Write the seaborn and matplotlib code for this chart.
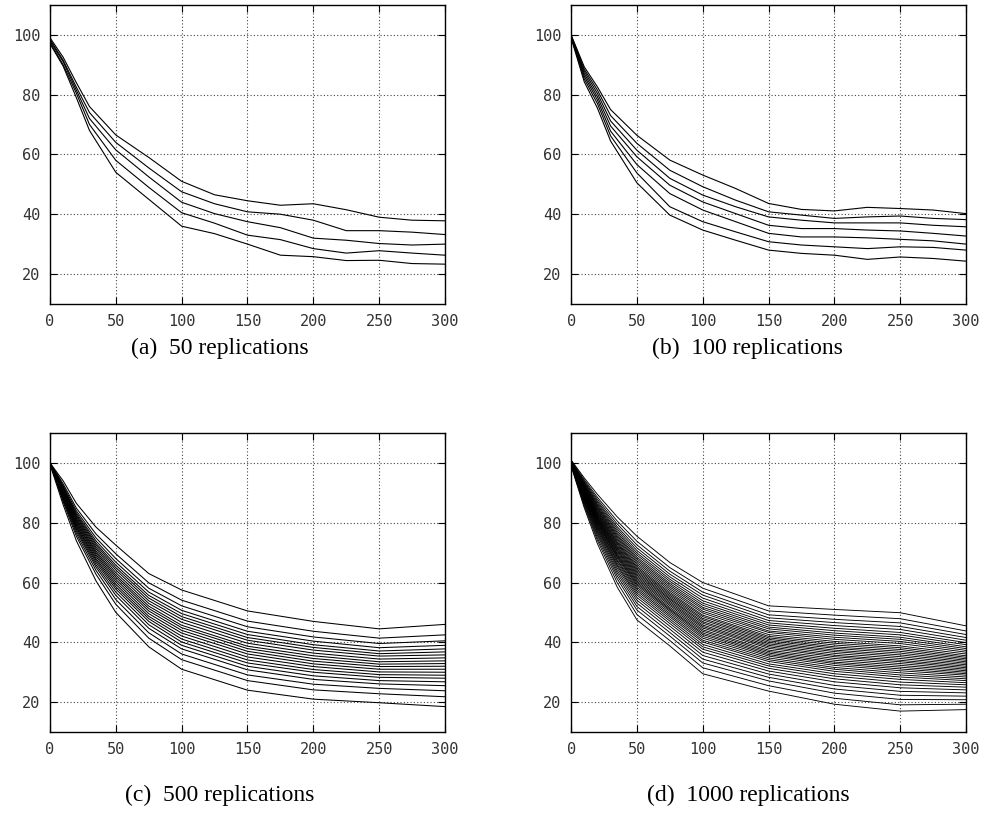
import numpy as np
import pandas as pd
import matplotlib
matplotlib.use("Agg")
import matplotlib.pyplot as plt
import seaborn as sns

# values (one list per curve, top to bottom)
steps_ab = [0, 10, 20, 30, 50, 75, 100, 125, 150, 175, 200, 225, 250, 275, 300]
steps_cd = [0, 10, 20, 35, 50, 75, 100, 150, 200, 250, 300]

curves_a = [
    [99.0, 92.5, 84.0, 76.0, 66.5, 59.0, 51.0, 46.5, 44.5, 43.0, 43.5, 41.5, 39.0, 38.0, 37.8],
    [98.5, 91.5, 82.5, 74.0, 64.0, 55.5, 47.5, 43.5, 40.8, 40.0, 38.0, 34.5, 34.5, 34.0, 33.2],
    [98.0, 91.0, 81.5, 72.0, 61.5, 52.5, 44.0, 40.2, 37.5, 35.5, 32.0, 31.3, 30.2, 29.7, 30.0],
    [97.5, 90.0, 80.5, 70.0, 58.0, 49.0, 40.5, 37.0, 33.0, 31.5, 28.5, 27.0, 27.8, 27.0, 26.3],
    [97.0, 89.5, 79.0, 68.0, 54.0, 45.0, 36.0, 33.5, 30.0, 26.3, 25.8, 24.5, 24.6, 23.5, 23.3],
]

curves_b = [
    [100.0, 89.3, 82.6, 75.0, 66.4, 58.1, 53.1, 48.6, 43.6, 41.6, 41.1, 42.3, 41.9, 41.4, 40.2],
    [99.8, 88.5, 81.5, 73.0, 63.7, 54.7, 49.2, 44.7, 40.8, 39.7, 38.6, 39.1, 39.4, 38.6, 38.2],
    [99.6, 87.8, 80.4, 71.2, 61.4, 52.0, 46.4, 42.5, 39.1, 38.0, 37.1, 37.1, 37.1, 36.3, 35.8],
    [99.5, 87.0, 79.3, 69.5, 59.2, 49.7, 44.1, 40.2, 36.3, 35.2, 35.2, 34.7, 34.4, 33.6, 32.7],
    [99.3, 86.2, 78.2, 67.8, 56.6, 46.9, 41.4, 37.5, 33.6, 32.4, 32.4, 32.1, 31.6, 31.1, 30.0],
    [99.2, 85.3, 77.0, 66.2, 53.8, 42.5, 37.5, 34.1, 30.8, 29.7, 29.1, 28.5, 29.1, 28.9, 28.0],
    [99.0, 84.3, 75.5, 64.5, 50.5, 39.7, 34.7, 31.3, 28.0, 26.9, 26.3, 24.9, 25.7, 25.2, 24.3],
]

curves_c = [
    [100.0, 94.0, 86.5, 78.5, 72.5, 63.0, 57.5, 50.5, 47.0, 44.5, 46.0],
    [100.0, 93.0, 84.9, 76.2, 69.6, 59.9, 54.1, 47.1, 43.7, 41.4, 42.5],
    [100.0, 92.4, 84.0, 74.9, 68.0, 58.1, 52.2, 45.2, 41.8, 39.6, 40.5],
    [100.0, 92.0, 83.3, 73.9, 66.8, 56.8, 50.7, 43.7, 40.4, 38.2, 39.0],
    [100.0, 91.6, 82.8, 73.1, 65.8, 55.7, 49.6, 42.6, 39.2, 37.1, 37.8],
    [100.0, 91.3, 82.3, 72.5, 65.0, 54.8, 48.6, 41.6, 38.3, 36.2, 36.8],
    [100.0, 91.0, 81.9, 71.8, 64.2, 53.9, 47.7, 40.7, 37.4, 35.4, 35.8],
    [100.0, 90.7, 81.4, 71.2, 63.3, 53.0, 46.7, 39.7, 36.4, 34.4, 34.8],
    [100.0, 90.4, 81.0, 70.5, 62.5, 52.1, 45.7, 38.7, 35.5, 33.5, 33.8],
    [100.0, 90.2, 80.6, 69.9, 61.8, 51.3, 44.9, 37.9, 34.6, 32.7, 32.9],
    [100.0, 89.9, 80.1, 69.3, 61.0, 50.5, 44.0, 37.0, 33.7, 31.9, 32.0],
    [100.0, 89.6, 79.7, 68.7, 60.2, 49.6, 43.1, 36.1, 32.8, 31.0, 31.0],
    [100.0, 89.3, 79.2, 68.0, 59.4, 48.7, 42.1, 35.1, 31.9, 30.1, 30.0],
    [100.0, 89.1, 78.8, 67.4, 58.6, 47.9, 41.1, 34.1, 30.9, 29.2, 29.0],
    [100.0, 88.8, 78.3, 66.7, 57.8, 47.0, 40.1, 33.1, 30.0, 28.3, 28.0],
    [100.0, 88.4, 77.8, 65.9, 56.8, 45.9, 39.0, 32.0, 28.8, 27.2, 26.8],
    [100.0, 88.0, 77.2, 65.1, 55.7, 44.7, 37.8, 30.8, 27.6, 26.1, 25.5],
    [100.0, 87.5, 76.4, 64.0, 54.3, 43.2, 36.1, 29.1, 26.0, 24.6, 23.8],
    [100.0, 87.0, 75.5, 62.7, 52.7, 41.4, 34.2, 27.2, 24.1, 22.8, 21.8],
    [99.5, 86.0, 74.0, 60.5, 50.0, 38.5, 31.0, 24.0, 21.0, 19.8, 18.5],
]

curves_d = [
    [101.0, 95.0, 89.5, 82.0, 75.5, 66.7, 60.0, 52.2, 51.0, 49.9, 45.5],
    [100.8, 94.4, 88.5, 80.6, 73.8, 65.0, 58.1, 50.5, 49.1, 47.9, 43.8],
    [100.6, 94.0, 87.8, 79.6, 72.6, 63.8, 56.8, 49.2, 47.7, 46.5, 42.6],
    [100.5, 93.6, 87.2, 78.7, 71.6, 62.8, 55.8, 48.2, 46.6, 45.3, 41.6],
    [100.4, 93.3, 86.7, 78.0, 70.7, 61.9, 54.8, 47.3, 45.6, 44.3, 40.7],
    [100.3, 93.0, 86.2, 77.3, 69.9, 61.1, 53.9, 46.5, 44.7, 43.3, 39.9],
    [100.2, 92.8, 85.8, 76.7, 69.2, 60.4, 53.1, 45.8, 43.9, 42.5, 39.2],
    [100.2, 92.5, 85.4, 76.1, 68.5, 59.7, 52.4, 45.1, 43.1, 41.7, 38.5],
    [100.1, 92.3, 85.0, 75.6, 67.9, 59.1, 51.7, 44.5, 42.4, 41.0, 37.9],
    [100.1, 92.1, 84.7, 75.1, 67.3, 58.5, 51.1, 43.8, 41.7, 40.3, 37.3],
    [100.0, 91.9, 84.3, 74.6, 66.7, 57.9, 50.4, 43.3, 41.0, 39.6, 36.7],
    [100.0, 91.6, 84.0, 74.1, 66.1, 57.3, 49.8, 42.6, 40.3, 38.8, 36.1],
    [100.0, 91.4, 83.6, 73.6, 65.5, 56.7, 49.1, 42.0, 39.7, 38.2, 35.5],
    [100.0, 91.3, 83.3, 73.2, 65.0, 56.2, 48.6, 41.5, 39.1, 37.6, 35.0],
    [100.0, 91.1, 83.0, 72.8, 64.5, 55.7, 48.0, 41.0, 38.5, 37.0, 34.5],
    [100.0, 90.9, 82.7, 72.3, 64.0, 55.2, 47.5, 40.5, 38.0, 36.4, 34.0],
    [100.0, 90.7, 82.4, 71.9, 63.5, 54.7, 46.9, 40.0, 37.4, 35.8, 33.5],
    [100.0, 90.5, 82.1, 71.5, 63.0, 54.3, 46.4, 39.5, 36.9, 35.2, 33.0],
    [100.0, 90.4, 81.8, 71.1, 62.5, 53.8, 45.8, 39.0, 36.3, 34.6, 32.5],
    [100.0, 90.2, 81.5, 70.7, 62.0, 53.3, 45.3, 38.5, 35.7, 34.0, 32.0],
    [100.0, 90.0, 81.3, 70.3, 61.5, 52.8, 44.8, 38.0, 35.2, 33.5, 31.5],
    [100.0, 89.8, 81.0, 69.8, 61.0, 52.3, 44.2, 37.4, 34.6, 32.9, 31.0],
    [100.0, 89.6, 80.7, 69.4, 60.5, 51.7, 43.7, 36.9, 34.0, 32.3, 30.5],
    [100.0, 89.5, 80.4, 69.0, 60.0, 51.2, 43.1, 36.4, 33.4, 31.7, 30.0],
    [100.0, 89.3, 80.1, 68.6, 59.5, 50.8, 42.6, 35.9, 32.9, 31.1, 29.5],
    [100.0, 89.1, 79.8, 68.2, 59.0, 50.3, 42.0, 35.4, 32.3, 30.5, 29.0],
    [99.9, 88.9, 79.4, 67.6, 58.4, 49.7, 41.4, 34.8, 31.6, 29.8, 28.4],
    [99.9, 88.7, 79.1, 67.2, 57.8, 49.1, 40.7, 34.2, 31.0, 29.1, 27.8],
    [99.9, 88.5, 78.7, 66.6, 57.2, 48.5, 40.1, 33.6, 30.3, 28.4, 27.2],
    [99.8, 88.2, 78.3, 66.0, 56.5, 47.8, 39.3, 32.8, 29.5, 27.6, 26.5],
    [99.8, 88.0, 77.9, 65.5, 55.8, 47.1, 38.5, 32.1, 28.7, 26.7, 25.8],
    [99.7, 87.7, 77.4, 64.8, 55.0, 46.3, 37.7, 31.3, 27.8, 25.8, 25.0],
    [99.7, 87.4, 76.9, 64.0, 54.1, 45.4, 36.7, 30.4, 26.8, 24.8, 24.1],
    [99.6, 87.0, 76.3, 63.2, 53.1, 44.4, 35.6, 29.4, 25.6, 23.6, 23.1],
    [99.5, 86.6, 75.7, 62.3, 52.0, 43.3, 34.4, 28.3, 24.4, 22.3, 22.0],
    [99.4, 86.2, 74.9, 61.3, 50.8, 42.1, 33.1, 27.1, 23.0, 20.9, 20.8],
    [99.2, 85.6, 74.1, 60.0, 49.3, 40.6, 31.5, 25.5, 21.3, 19.1, 19.3],
    [99.0, 85.0, 73.0, 58.5, 47.5, 38.8, 29.5, 23.7, 19.3, 17.0, 17.5],
]

captions = ["(a)  50 replications", "(b)  100 replications",
            "(c)  500 replications", "(d)  1000 replications"]
x_ticks = [0, 50, 100, 150, 200, 250, 300]
y_ticks = [20, 40, 60, 80, 100]


def to_frame(steps, curves):
    rows = []
    for k, vals in enumerate(curves):
        for s, v in zip(steps, vals):
            rows.append((k, s, v))
    return pd.DataFrame(rows, columns=["curve", "step", "value"])


panels = [to_frame(steps_ab, curves_a), to_frame(steps_ab, curves_b),
          to_frame(steps_cd, curves_c), to_frame(steps_cd, curves_d)]
widths = [0.8, 0.8, 0.75, 0.65]

sns.set_theme(style="ticks")
plt.rcParams["font.family"] = ["DejaVu Sans Mono", "DejaVu Sans"]

fig = plt.figure(figsize=(9.88, 8.17), dpi=100)
boxes = [(0.0506, 0.628, 0.3998, 0.366), (0.578, 0.628, 0.3998, 0.366),
         (0.0506, 0.104, 0.3998, 0.366), (0.578, 0.104, 0.3998, 0.366)]
cap_pos = [(0.222, 0.573), (0.757, 0.573), (0.222, 0.027), (0.757, 0.027)]

for df, lw, box, cap, (cx, cy) in zip(panels, widths, boxes, captions, cap_pos):
    ax = fig.add_axes(box)
    sns.lineplot(data=df, x="step", y="value", units="curve", estimator=None,
                 color="black", linewidth=lw, legend=False, ax=ax)
    ax.set_xlim(0, 300)
    ax.set_ylim(10, 110)
    ax.set_xticks(x_ticks)
    ax.set_yticks(y_ticks)
    ax.set_xlabel("")
    ax.set_ylabel("")
    ax.grid(True, color="#444444", linestyle=(0, (1, 2)), linewidth=0.8)
    ax.tick_params(direction="in", top=True, right=True, length=5, width=0.8,
                   color="black", labelsize=11, labelcolor="#333333", pad=7)
    for sp in ax.spines.values():
        sp.set_color("black")
        sp.set_linewidth(1.0)
    fig.text(cx, cy, cap, ha="center", va="center", fontsize=17,
             family=["Liberation Serif", "DejaVu Serif"], color="black")

fig.savefig("out.png", dpi=100)
